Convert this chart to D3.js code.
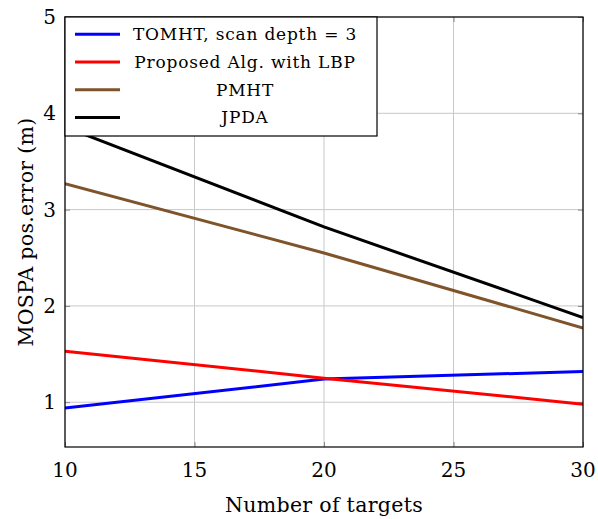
<!DOCTYPE html>
<html>
<head>
<meta charset="utf-8">
<script src="https://cdn.jsdelivr.net/npm/d3@7"></script>
<style>
  body { margin: 0; background: #fff; }
  text { font-family: "DejaVu Serif", serif; fill: #000; }
</style>
</head>
<body>
<svg id="chart" width="598" height="519"></svg>
<script>
// values
let targets = [10, 20, 30];
let tomht = [0.94, 1.24, 1.32];
let proposed = [1.53, 1.25, 0.98];
let pmht = [3.27, 2.55, 1.77];
let jpda = [3.86, 2.82, 1.88];

let seriesNames = ['TOMHT, scan depth = 3', 'Proposed Alg. with LBP', 'PMHT', 'JPDA'];
let seriesColors = ['#0000ff', '#ff0000', '#7f542b', '#000000'];
let xTicks = [10, 15, 20, 25, 30];
let yTicks = [1, 2, 3, 4, 5];

window.onload = () => {
    let margin = {left: 65, right: 15, top: 17, bottom: 72};
    let width = 598, height = 519;
    let svg = d3.select('#chart');

    let x = d3.scaleLinear().domain([10, 30]).range([margin.left, width - margin.right]);
    let y = d3.scaleLinear().domain([0.535, 5]).range([height - margin.bottom, margin.top]);

    // grid
    svg.append('g')
        .selectAll('line.gx')
        .data(xTicks)
        .enter()
        .append('line')
            .attr('x1', d => x(d)).attr('x2', d => x(d))
            .attr('y1', y.range()[0]).attr('y2', y.range()[1])
            .attr('stroke', '#c8c8c8').attr('stroke-width', 1);
    svg.append('g')
        .selectAll('line.gy')
        .data(yTicks)
        .enter()
        .append('line')
            .attr('x1', x.range()[0]).attr('x2', x.range()[1])
            .attr('y1', d => y(d)).attr('y2', d => y(d))
            .attr('stroke', '#c8c8c8').attr('stroke-width', 1);

    // small inner tick marks
    let bottomAxis = d3.axisBottom(x).tickValues(xTicks).tickSize(-5).tickFormat('');
    let topAxis = d3.axisTop(x).tickValues(xTicks).tickSize(-5).tickFormat('');
    let leftAxis = d3.axisLeft(y).tickValues(yTicks).tickSize(-5).tickFormat('');
    let rightAxis = d3.axisRight(y).tickValues(yTicks).tickSize(-5).tickFormat('');
    [[bottomAxis, 'translate(0,' + y.range()[0] + ')'],
     [topAxis, 'translate(0,' + y.range()[1] + ')'],
     [leftAxis, 'translate(' + x.range()[0] + ',0)'],
     [rightAxis, 'translate(' + x.range()[1] + ',0)']].forEach(a => {
        let g = svg.append('g').attr('transform', a[1]).call(a[0]);
        g.select('.domain').remove();
        g.selectAll('line').attr('stroke', '#888').attr('stroke-width', 1);
    });

    // tick labels
    svg.append('g')
        .selectAll('text')
        .data(xTicks)
        .enter()
        .append('text')
            .attr('x', d => x(d))
            .attr('y', y.range()[0] + 30)
            .attr('text-anchor', 'middle')
            .style('font-size', '20px')
            .text(d => d);
    svg.append('g')
        .selectAll('text')
        .data(yTicks)
        .enter()
        .append('text')
            .attr('x', x.range()[0] - 9)
            .attr('y', d => y(d) + 7)
            .attr('text-anchor', 'end')
            .style('font-size', '20px')
            .text(d => d);

    // axis titles
    svg.append('text')
        .attr('x', (x.range()[0] + x.range()[1]) / 2)
        .attr('y', 512)
        .attr('text-anchor', 'middle')
        .style('font-size', '20.5px')
        .style('letter-spacing', '0.3px')
        .text('Number of targets');
    svg.append('text')
        .attr('transform', 'translate(33,' + 232 + ') rotate(-90)')
        .attr('text-anchor', 'middle')
        .style('font-size', '20.5px')
        .style('letter-spacing', '0.3px')
        .text('MOSPA pos.error (m)');

    // lines
    svg.append('clipPath').attr('id', 'clip')
        .append('rect')
            .attr('x', x.range()[0]).attr('y', y.range()[1])
            .attr('width', x.range()[1] - x.range()[0])
            .attr('height', y.range()[0] - y.range()[1]);

    let line = d3.line().x((d, i) => x(targets[i])).y(d => y(d));
    let allSeries = [tomht, proposed, pmht, jpda];
    svg.append('g')
        .attr('clip-path', 'url(#clip)')
        .selectAll('path')
        .data(allSeries)
        .enter()
        .append('path')
            .attr('d', d => line(d))
            .attr('fill', 'none')
            .attr('stroke', (d, i) => seriesColors[i])
            .attr('stroke-width', 3);

    // frame
    svg.append('rect')
        .attr('x', x.range()[0]).attr('y', y.range()[1])
        .attr('width', x.range()[1] - x.range()[0])
        .attr('height', y.range()[0] - y.range()[1])
        .attr('fill', 'none').attr('stroke', '#000').attr('stroke-width', 1.2);

    // legend
    let legend = svg.append('g').attr('class', 'legend');
    legend.append('rect')
        .attr('x', 65).attr('y', 17)
        .attr('width', 312).attr('height', 119)
        .attr('fill', '#fff').attr('stroke', '#000').attr('stroke-width', 1.2);
    let rows = legend.selectAll('g.row')
        .data(seriesNames)
        .enter()
        .append('g')
            .attr('transform', (d, i) => 'translate(0,' + (34.3 + i * 27.7) + ')');
    rows.append('line')
        .attr('x1', 75).attr('x2', 120)
        .attr('stroke', (d, i) => seriesColors[i])
        .attr('stroke-width', 3);
    rows.append('text')
        .attr('x', 245)
        .attr('y', 6)
        .attr('text-anchor', 'middle')
        .style('font-size', '17px')
        .style('letter-spacing', '0.8px')
        .text(d => d);
};
</script>
</body>
</html>
